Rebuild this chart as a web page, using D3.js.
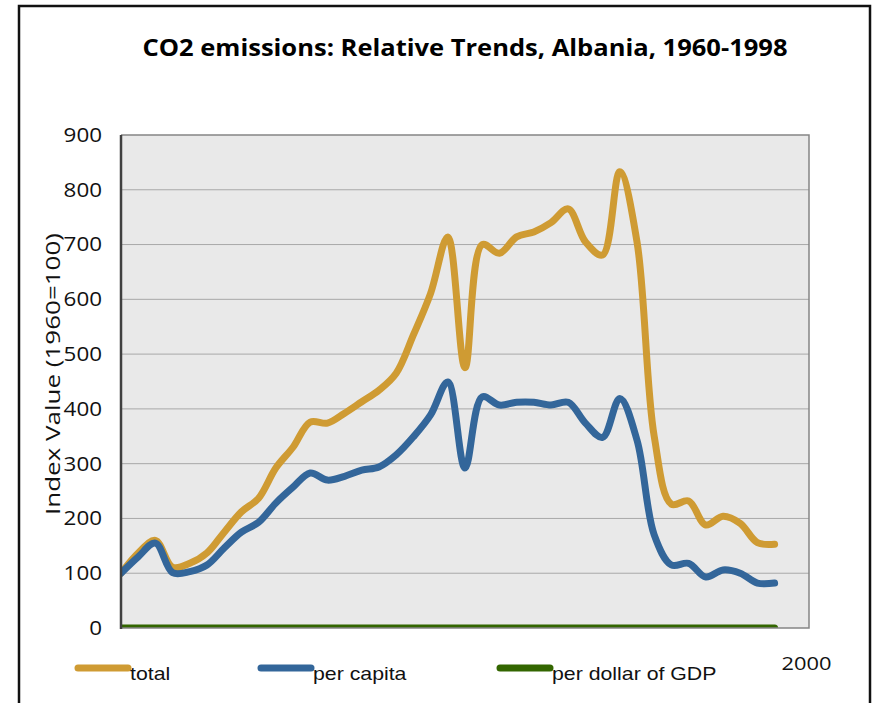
<!DOCTYPE html>
<html>
<head>
<meta charset="utf-8">
<script src="https://cdn.jsdelivr.net/npm/d3@7"></script>
<style>
  body { margin: 0; background: #fff; }
  svg { display: block; }
</style>
</head>
<body>
<svg id="chart"></svg>
<script>
// years on the x axis
var years = [1960, 1961, 1962, 1963, 1964, 1965, 1966, 1967, 1968, 1969,
             1970, 1971, 1972, 1973, 1974, 1975, 1976, 1977, 1978, 1979,
             1980, 1981, 1982, 1983, 1984, 1985, 1986, 1987, 1988, 1989,
             1990, 1991, 1992, 1993, 1994, 1995, 1996, 1997, 1998];

// index values (1960=100)
var total = [100, 137, 160, 111, 118, 137, 175, 212, 237, 292,
             330, 376, 374, 392, 413, 434, 465, 535, 611, 714,
             475, 700, 684, 714, 723, 740, 765, 705, 681, 833,
             705, 350, 226, 232, 188, 204, 191, 156, 153];

var perCapita = [100, 130, 155, 101, 103, 115, 146, 175, 193, 228,
                 257, 283, 270, 277, 288, 294, 316, 349, 389, 449,
                 292, 422, 407, 412, 412, 407, 412, 374, 348, 419,
                 343, 170, 115, 118, 93, 106, 100, 82, 82];

var perGdp = [0, 0, 0, 0, 0, 0, 0, 0, 0, 0,
              0, 0, 0, 0, 0, 0, 0, 0, 0, 0,
              0, 0, 0, 0, 0, 0, 0, 0, 0, 0,
              0, 0, 0, 0, 0, 0, 0, 0, 0];

var seriesNames = ["total", "per capita", "per dollar of GDP"];
var seriesColors = ["#cf9b33", "#33669a", "#336600"];
var yTicks = [0, 100, 200, 300, 400, 500, 600, 700, 800, 900];
var xDomain = [1960, 2000];

var W = 878, H = 703;
var plot = {left: 121, top: 135, right: 809, bottom: 628};

// the picture's text is a bit wider than the installed fonts
const widen = (sel, k) => {
	sel.each(function () {
		const w = this.getComputedTextLength();
		this.setAttribute("textLength", w * k);
		this.setAttribute("lengthAdjust", "spacingAndGlyphs");
	});
}

var svg = d3.select("svg#chart")
            .attr("width", W)
            .attr("height", H);

// outer frame
svg.append("rect")
   .attr("x", 19).attr("y", 6)
   .attr("width", 851).attr("height", 740)
   .attr("fill", "none")
   .attr("stroke", "#111")
   .attr("stroke-width", 2.5);

// title
svg.append("text")
   .text("CO2 emissions: Relative Trends, Albania, 1960-1998")
   .attr("x", 465)
   .attr("y", 56)
   .attr("text-anchor", "middle")
   .style("font-family", "'Open Sans', sans-serif")
   .style("font-weight", "bold")
   .style("font-size", "24px")
   .attr("textLength", 645)
   .attr("lengthAdjust", "spacingAndGlyphs");

var x = d3.scaleLinear().domain(xDomain).range([plot.left, plot.right]);
var y = d3.scaleLinear().domain([0, 900]).range([plot.bottom, plot.top]);

// plot background
svg.append("rect")
   .attr("x", plot.left).attr("y", plot.top)
   .attr("width", plot.right - plot.left)
   .attr("height", plot.bottom - plot.top)
   .attr("fill", "#e9e9e9");

// gridlines
svg.append("g")
   .selectAll("line")
   .data(yTicks.filter(function (d) { return d > 0 && d < 900; }))
   .enter().append("line")
   .attr("x1", plot.left).attr("x2", plot.right)
   .attr("y1", function (d) { return y(d); })
   .attr("y2", function (d) { return y(d); })
   .attr("stroke", "#a8a8a8")
   .attr("stroke-width", 1);

// y axis labels
var yAxis = svg.append("g")
   .attr("transform", "translate(" + plot.left + ",0)")
   .call(d3.axisLeft(y).tickValues(yTicks).tickSize(0).tickPadding(19));
yAxis.select(".domain").remove();
yAxis.selectAll("text")
     .style("font-family", "'Open Sans', sans-serif")
     .style("font-size", "20px")
     .attr("fill", "#111")
     .call(widen, 1.12);

// x axis: only the 2000 label shows
var xAxis = svg.append("g")
   .attr("transform", "translate(0," + plot.bottom + ")")
   .call(d3.axisBottom(x).tickValues([2000]).tickSize(0).tickPadding(29).tickFormat(d3.format("d")));
xAxis.select(".domain").remove();
xAxis.selectAll("text")
     .attr("dx", "-3")
     .style("font-family", "'Open Sans', sans-serif")
     .style("font-size", "19px")
     .attr("fill", "#111")
     .call(widen, 1.15);

// y axis title
svg.append("text")
   .text("Index Value (1960=100)")
   .attr("transform", "translate(60,374) rotate(-90)")
   .attr("text-anchor", "middle")
   .style("font-family", "'Open Sans', sans-serif")
   .style("font-size", "20px")
   .attr("fill", "#111")
   .attr("textLength", 282)
   .attr("lengthAdjust", "spacingAndGlyphs");

// series
svg.append("clipPath").attr("id", "plotClip")
   .append("rect")
   .attr("x", plot.left).attr("y", plot.top)
   .attr("width", plot.right - plot.left)
   .attr("height", plot.bottom - plot.top);

var line = d3.line()
             .x(function (d, i) { return x(years[i]); })
             .y(function (d) { return y(d); })
             .curve(d3.curveCatmullRom.alpha(0.5));

var seriesData = [perGdp, total, perCapita];
var seriesColor = [seriesColors[2], seriesColors[0], seriesColors[1]];

svg.append("g")
   .attr("clip-path", "url(#plotClip)")
   .selectAll("path")
   .data(seriesData)
   .enter().append("path")
   .attr("d", function (d) { return line(d); })
   .attr("fill", "none")
   .attr("stroke", function (d, i) { return seriesColor[i]; })
   .attr("stroke-width", 7)
   .attr("stroke-linecap", "round")
   .attr("stroke-linejoin", "round");

// plot frame: grey top/right/bottom, dark left axis
svg.append("path")
   .attr("d", "M" + plot.left + "," + plot.top + "H" + plot.right + "V" + plot.bottom + "H" + plot.left)
   .attr("fill", "none")
   .attr("stroke", "#858585")
   .attr("stroke-width", 1.5);
svg.append("line")
   .attr("x1", plot.left).attr("x2", plot.left)
   .attr("y1", plot.top).attr("y2", plot.bottom + 1)
   .attr("stroke", "#404040")
   .attr("stroke-width", 2.5);

// legend
var legendX = [78, 261, 500];
var legend = svg.append("g");
seriesNames.forEach(function (name, i) {
  legend.append("line")
        .attr("x1", legendX[i]).attr("x2", legendX[i] + 50)
        .attr("y1", 668).attr("y2", 668)
        .attr("stroke", seriesColors[i])
        .attr("stroke-width", 7)
        .attr("stroke-linecap", "round");
  legend.append("text")
        .text(name)
        .attr("x", legendX[i] + 52)
        .attr("y", 680)
        .style("font-family", "'Liberation Sans', Arial, sans-serif")
        .style("font-size", "19px")
        .attr("fill", "#111")
        .call(widen, 1.12);
});
</script>
</body>
</html>
